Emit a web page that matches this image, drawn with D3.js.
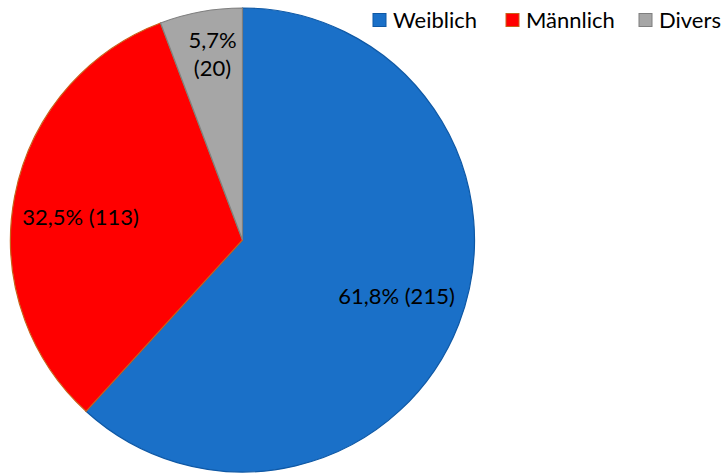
<!DOCTYPE html>
<html>
<head>
<meta charset="utf-8">
<script src="https://cdn.jsdelivr.net/npm/d3@7"></script>
<style>
  body { margin: 0; background: #fff; }
  svg text { font-family: Lato, "Open Sans", sans-serif; fill: #000; }
</style>
</head>
<body>
<div id="chart"></div>
<script>
// data
const categories = ["Weiblich", "Männlich", "Divers"];
const counts = [215, 113, 20];
const shares = ["61,8%", "32,5%", "5,7%"];

const fills = ["#1a70c8", "#ff0000", "#a6a6a6"];
const strokes = ["#0e58a5", "#c8621a", "#7f7f7f"];

const width = 722, height = 475;
const cx = 242.5, cy = 240, radius = 232;

const svg = d3.select("#chart")
    .append("svg")
    .attr("width", width)
    .attr("height", height);

const pie = d3.pie().sort(null).value(d => d)(counts);

const arc = d3.arc().innerRadius(0).outerRadius(radius);

const g = svg.append("g").attr("transform", `translate(${cx}, ${cy})`);

g.selectAll("path")
    .data(pie)
    .enter()
    .append("path")
    .attr("d", arc)
    .style("fill", (d, i) => fills[i])
    .style("stroke", (d, i) => strokes[i])
    .style("stroke-width", 1.2);

// labels (offsets relative to centre)
const labelPos = [
    { x: 154, y: 56, lines: [shares[0] + " (" + counts[0] + ")"] },
    { x: -162, y: -23, lines: [shares[1] + " (" + counts[1] + ")"] },
    { x: -30, y: -186, lines: [shares[2], "(" + counts[2] + ")"] }
];

labelPos.forEach(p => {
    const t = g.append("text")
        .attr("text-anchor", "middle")
        .style("font-size", "22px");
    p.lines.forEach((line, k) => {
        t.append("tspan")
            .attr("x", p.x)
            .attr("y", p.y + (k - (p.lines.length - 1) / 2) * 28)
            .attr("dy", "0.35em")
            .text(line);
    });
});

// legend
const legendX = [373, 506, 639];
const legend = svg.append("g");
categories.forEach((c, i) => {
    legend.append("rect")
        .attr("x", legendX[i])
        .attr("y", 13.5)
        .attr("width", 13)
        .attr("height", 13)
        .style("fill", fills[i])
        .style("stroke", strokes[i])
        .style("stroke-width", 1);
    legend.append("text")
        .attr("x", legendX[i] + 20)
        .attr("y", 20)
        .attr("dy", "0.35em")
        .style("font-size", "22px")
        .text(c);
});
</script>
</body>
</html>
